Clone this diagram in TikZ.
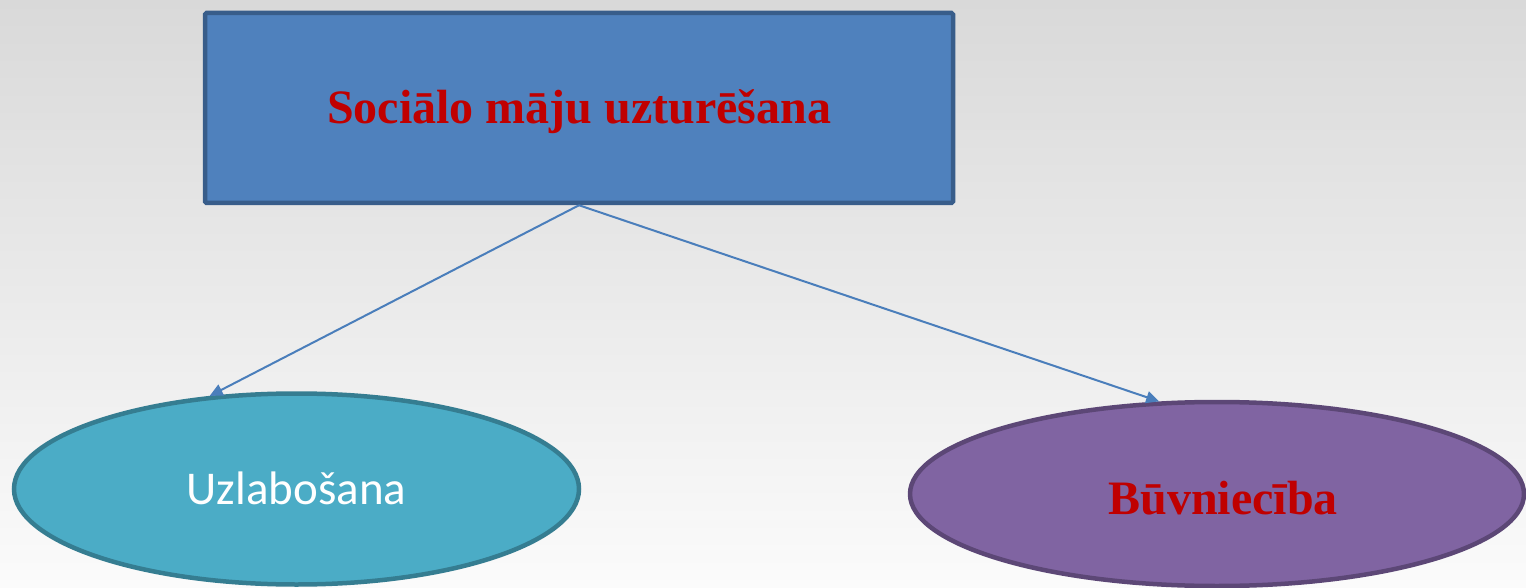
\documentclass[tikz,border=0pt]{standalone}
\usepackage{fontspec}
\usetikzlibrary{shapes.geometric,arrows.meta}
\newfontfamily\tnrfont{Liberation Serif}
\newfontfamily\calfont{Carlito}
\definecolor{bgtop}{HTML}{D9D9D9}
\definecolor{bgbot}{HTML}{FBFBFB}
\definecolor{rectfill}{HTML}{4F81BD}
\definecolor{rectline}{HTML}{385D8A}
\definecolor{tealfill}{HTML}{4BACC6}
\definecolor{tealline}{HTML}{357D91}
\definecolor{purpfill}{HTML}{8064A2}
\definecolor{purpline}{HTML}{5C4776}
\definecolor{arrowcol}{HTML}{4A7EBB}
\definecolor{darkred}{HTML}{C00000}
\tikzset{
  topbox/.style={rectangle, draw=rectline, fill=rectfill, line width=4.5pt,
    minimum width=748pt, minimum height=190pt, inner sep=0pt, rounded corners=1.5pt},
  ovalA/.style={ellipse, draw=tealline, fill=tealfill, line width=4.5pt,
    minimum width=565pt, minimum height=191pt, inner sep=0pt},
  ovalB/.style={ellipse, draw=purpline, fill=purpfill, line width=4.5pt,
    minimum width=614pt, minimum height=184pt, inner sep=0pt},
  redtxt/.style={text=darkred, font=\tnrfont\bfseries\fontsize{48}{56}\selectfont,
    text height=32pt, text depth=0pt},
  whitetxt/.style={text=white, font=\calfont\fontsize{47}{56}\selectfont,
    text height=30.5pt, text depth=0pt},
  conn/.style={draw=arrowcol, line width=2pt, -{Triangle[length=13pt,width=12pt]}}
}
\begin{document}
\begin{tikzpicture}[x=1pt,y=-1pt]
\useasboundingbox (0,0) rectangle (1526,588);
\shade[top color=bgtop, bottom color=bgbot] (0,0) rectangle (1526,588);
\node[topbox, redtxt] (top) at (579,108) {Sociālo māju uzturēšana};
\node[ovalA, whitetxt] (e1) at (296.5,489) {Uzlabošana};
\node[ovalB, redtxt, text height=41pt] (e2) at (1217,494) {\hspace*{12pt}Būvniecība};
\draw[conn] (top.south) -- (e1.133);
\draw[conn] (top.south) -- (e2.122);
\end{tikzpicture}
\end{document}
